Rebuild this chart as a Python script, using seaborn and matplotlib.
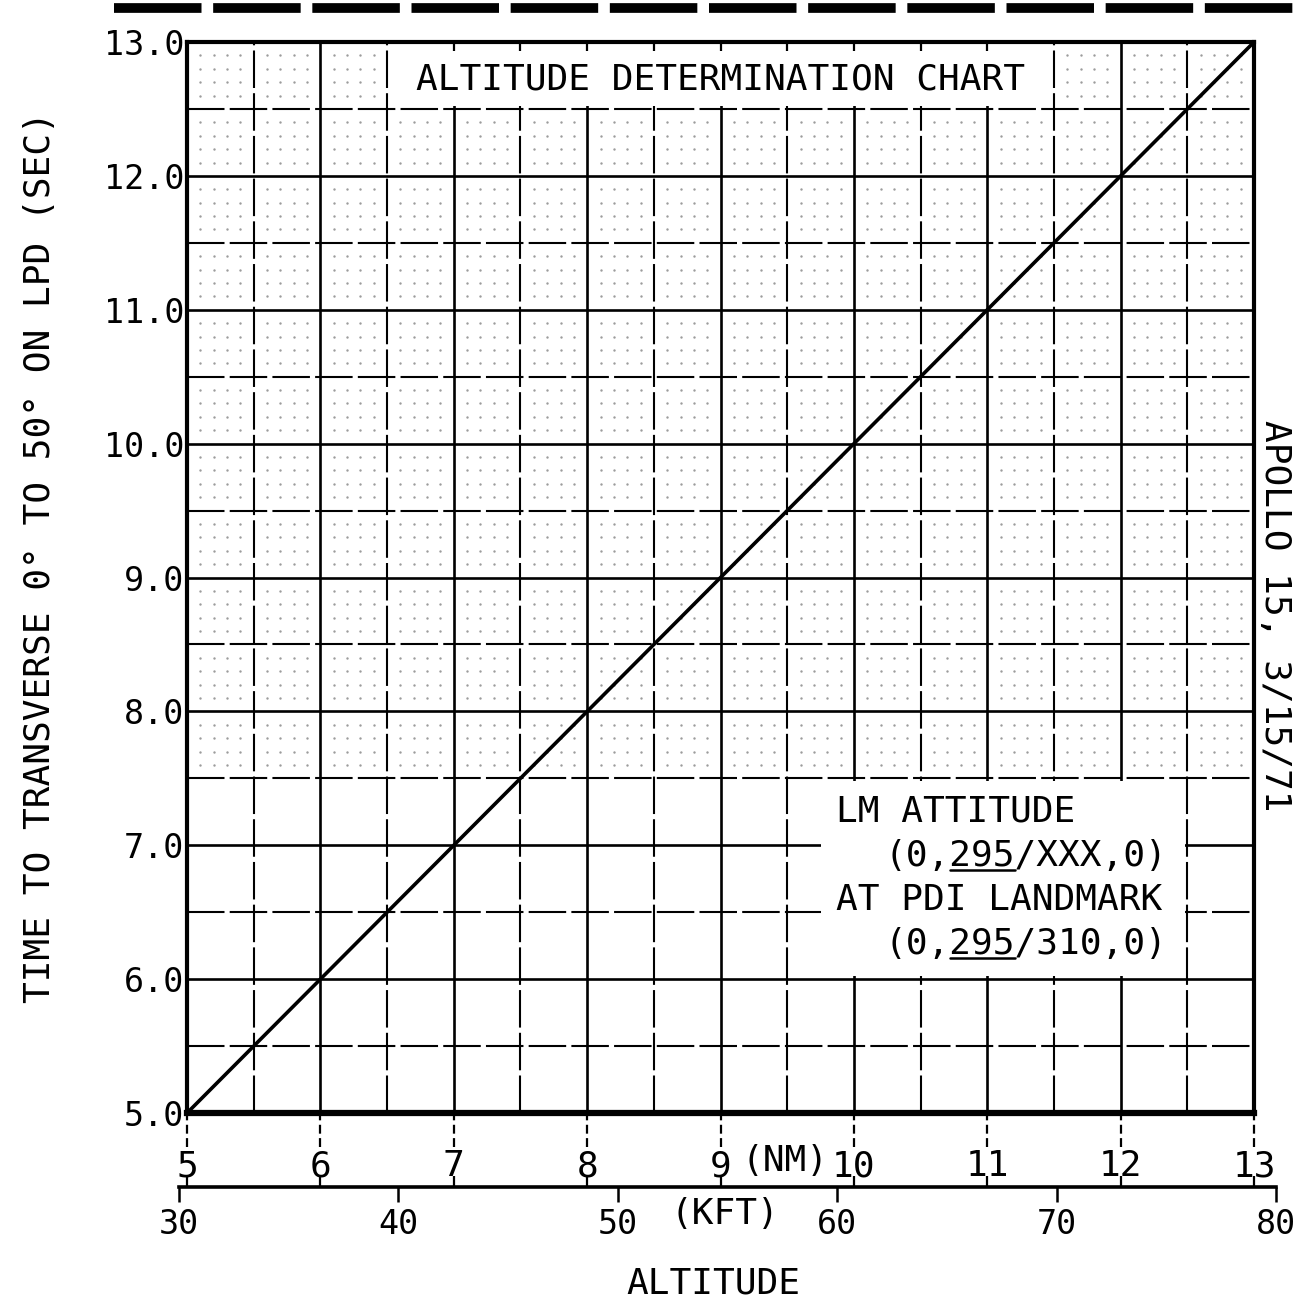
import numpy as np
import matplotlib
matplotlib.use("Agg")
import matplotlib.pyplot as plt
import matplotlib.transforms as mtransforms
from matplotlib.lines import Line2D
from matplotlib.patches import Rectangle
import seaborn as sns

# chart values
alt_nm = [5, 6, 7, 8, 9, 10, 11, 12, 13]
time_sec = [5.0, 6.0, 7.0, 8.0, 9.0, 10.0, 11.0, 12.0, 13.0]
nm_ticks = [5, 6, 7, 8, 9, 10, 11, 12, 13]
sec_ticks = [5.0, 6.0, 7.0, 8.0, 9.0, 10.0, 11.0, 12.0, 13.0]
kft_ticks = [30, 40, 50, 60, 70, 80]
KFT_PER_NM = 6.076

title = "ALTITUDE DETERMINATION CHART"
note_lines = ["LM ATTITUDE", "(0,295/XXX,0)", "AT PDI LANDMARK", "(0,295/310,0)"]
ylabel = "TIME TO TRANSVERSE 0° TO 50° ON LPD (SEC)"
side_note = "APOLLO 15, 3/15/71"

sns.set_style("white")
plt.rcParams['font.family'] = ['DejaVu Sans Mono', 'DejaVu Sans']
plt.rcParams['text.color'] = 'black'
plt.rcParams['xtick.color'] = 'black'
plt.rcParams['ytick.color'] = 'black'

fig = plt.figure(figsize=(12.99, 13.01), dpi=100)
L, B, W, H = 0.144, 0.1445, 0.8214, 0.8232
ax = fig.add_axes([L, B, W, H])
ax.set_xlim(5, 13)
ax.set_ylim(5, 13)

# grid: solid on whole units, long dashes on half units
for v in np.arange(5.5, 13.0, 0.5):
    if float(v).is_integer():
        kw = dict(color="black", lw=1.9, ls="-")
    else:
        kw = dict(color="black", lw=1.5, ls=(0, (18, 2.5)))
    ax.axvline(v, zorder=1, **kw)
    ax.axhline(v, zorder=1, **kw)

# faint halftone dots of the fine 0.1 grid (upper part of the sheet)
fine = np.round(np.arange(5.1, 13.0, 0.1), 1)
fine = fine[np.abs(fine * 2 - np.round(fine * 2)) > 1e-6]
fy = fine[fine > 7.5]
gx, gy = np.meshgrid(fine, fy)
ax.scatter(gx.ravel(), gy.ravel(), s=3, color="#9c9c9c", lw=0, zorder=1)

# title box at the top, blanking the grid under it
ax.add_patch(Rectangle((6.52, 12.52), 4.96, 0.48, facecolor="white", edgecolor="none", zorder=2))
ax.vlines(np.arange(7.0, 11.5, 0.5), 12.93, 13.0, color="black", lw=1.6, zorder=3)
ax.text(9.0, 12.72, title, ha="center", va="center", fontsize=26, zorder=5)

# note box
ax.add_patch(Rectangle((9.75, 6.02), 2.73, 1.46, facecolor="white", edgecolor="none", zorder=2))
note_pos = [(9.865, 7.25, "left"), (12.35, 6.92, "right"), (9.865, 6.59, "left"), (12.35, 6.26, "right")]
note_txt = []
for (x, y, ha), s in zip(note_pos, note_lines):
    note_txt.append(ax.text(x, y, s, ha=ha, va="center", fontsize=26, zorder=5))

# the curve
sns.lineplot(x=alt_nm, y=time_sec, ax=ax, color="black", lw=2.6, zorder=4)
ax.lines[-1].set_clip_on(False)

for side in ["left", "right", "top"]:
    ax.spines[side].set_linewidth(3)
    ax.spines[side].set_color("black")
ax.spines["bottom"].set_linewidth(4.5)
ax.spines["bottom"].set_color("black")

ax.set_yticks(sec_ticks)
ax.set_yticklabels([f"{v:.1f}" for v in sec_ticks])
ax.set_xticks(nm_ticks)
ax.set_xticklabels([str(v) for v in nm_ticks])
ax.tick_params(axis="y", length=0, pad=2, labelsize=24)
ax.tick_params(axis="x", length=0, pad=26, labelsize=26)

tr = mtransforms.blended_transform_factory(ax.transData, ax.transAxes)
ax.vlines(nm_ticks, -0.032, 0, transform=tr, clip_on=False, color="black", lw=1.6, linestyles=(0, (4, 2)))
ax.text(9.48, -0.029, "(NM)", transform=tr, ha="center", va="top", fontsize=26)

# second altitude scale in thousands of feet
kx0 = L + (30 / KFT_PER_NM - 5) / 8 * W
kx1 = L + (80 / KFT_PER_NM - 5) / 8 * W
kax = fig.add_axes([kx0, 0.0876, kx1 - kx0, 0.0001])
kax.set_xlim(30, 80)
kax.set_facecolor("none")
sns.despine(ax=kax, left=True)
kax.spines["bottom"].set_linewidth(2.6)
kax.spines["bottom"].set_color("black")
kax.set_yticks([])
kax.set_xticks(kft_ticks)
kax.set_xticklabels([str(v) for v in kft_ticks])
kax.set_xticks([n * KFT_PER_NM for n in nm_ticks], minor=True)
kax.tick_params(axis="x", which="both", bottom=True)
kax.tick_params(axis="x", which="major", direction="out", length=11, width=1.8, pad=4, labelsize=24, colors="black")
kax.tick_params(axis="x", which="minor", direction="in", length=8, width=1.6, colors="black")
ktr = mtransforms.blended_transform_factory(kax.transData, fig.transFigure)
kax.text(54.9, 0.0800, "(KFT)", transform=ktr, ha="center", va="top", fontsize=26)

fig.text(0.549, 0.0138, "ALTITUDE", ha="center", va="center", fontsize=26)
fig.text(0.031, 0.572, ylabel, rotation=90, ha="center", va="center", fontsize=26)
fig.text(0.9815, 0.527, side_note, rotation=-90, ha="center", va="center", fontsize=26)

# torn edge of the sheet above
fig.add_artist(Line2D([0.088, 1.0], [0.9935, 0.9935], transform=fig.transFigure,
                      color="black", lw=7, dashes=(9, 1.2)))

# underline the "295" in the note lines
fig.canvas.draw()
inv = fig.transFigure.inverted()
for t in note_txt:
    s = t.get_text()
    i = s.find("295")
    if i < 0:
        continue
    bb = t.get_window_extent()
    cw = bb.width / len(s)
    p0 = inv.transform((bb.x0 + i * cw, bb.y0 + 3))
    p1 = inv.transform((bb.x0 + (i + 3) * cw, bb.y0 + 3))
    fig.add_artist(Line2D([p0[0], p1[0]], [p0[1], p1[1]], transform=fig.transFigure, color="black", lw=1.8))

fig.savefig("out.png", dpi=100)
